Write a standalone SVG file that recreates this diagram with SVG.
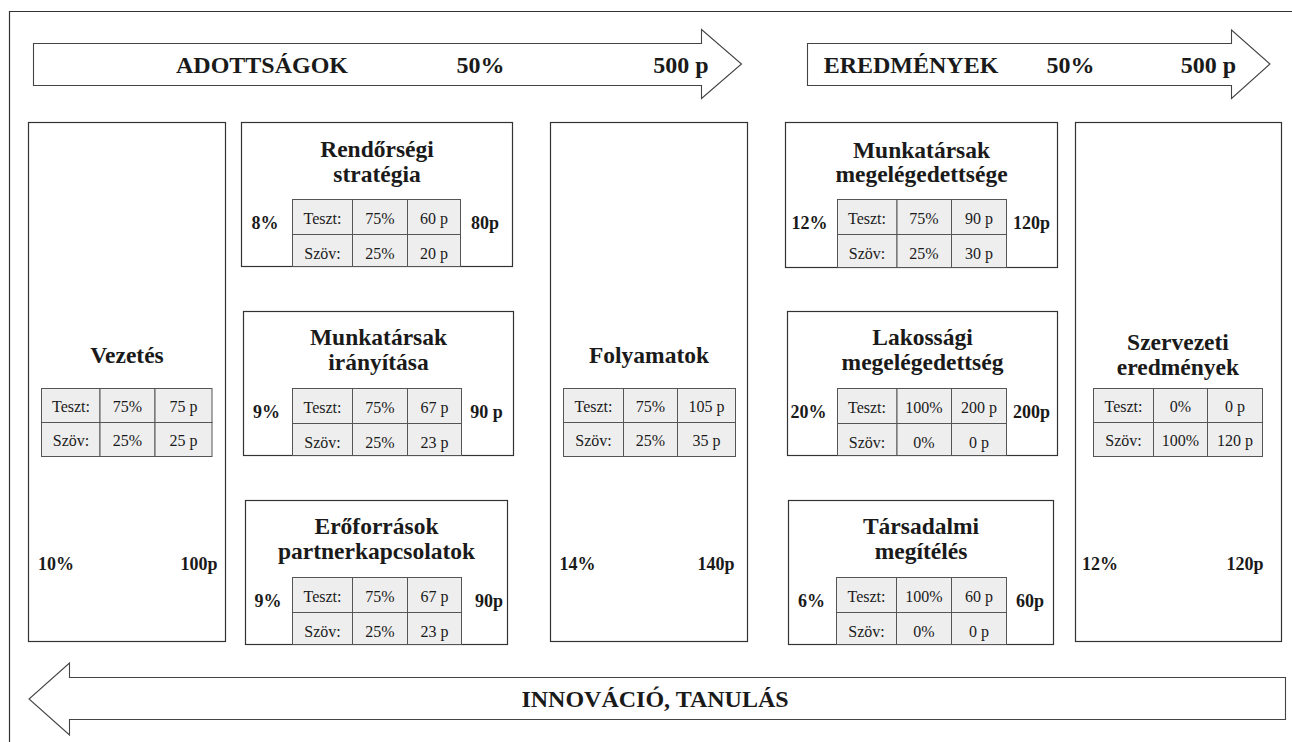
<svg xmlns="http://www.w3.org/2000/svg" width="1292" height="742" viewBox="0 0 1292 742">
<style>
.frame{fill:none;stroke:#333;stroke-width:1.2}
.box{fill:#fff;stroke:#333;stroke-width:1.2}
.arrow{fill:#fff;stroke:#444;stroke-width:1.1;stroke-linejoin:miter}
.cell{fill:#eeeeee;stroke:#555;stroke-width:1}
text{font-family:"Liberation Serif","Times New Roman",serif;fill:#1a1a1a}
.hdr{font-size:24px;font-weight:bold;text-anchor:middle}
.title{font-size:23.5px;font-weight:bold;text-anchor:middle}
.ct{font-size:16px;text-anchor:middle}
.pct{font-size:18px;font-weight:bold;text-anchor:middle}
</style>
<rect width="1292" height="742" fill="#fff"/>
<path class="frame" d="M9.5,742 V11.5 H1292"/>

<g id="arrows">
<path class="arrow" d="M33.5,43.5 H701.5 V29.5 L741.5,64 L701.5,98.5 V85.5 H33.5 Z"/>
<path class="arrow" d="M807.5,43.5 H1231.5 V30 L1270,64 L1231.5,98.5 V85.5 H807.5 Z"/>
<path class="arrow" d="M1285.5,677.5 H69.5 V663 L29,699 L69.5,735 V719.5 H1285.5 Z"/>
<text class="hdr" x="262" y="72.5">ADOTTSÁGOK</text>
<text class="hdr" x="480.5" y="72.5">50%</text>
<text class="hdr" x="681" y="72.5">500 p</text>
<text class="hdr" x="911" y="72.5">EREDMÉNYEK</text>
<text class="hdr" x="1070.5" y="72.5">50%</text>
<text class="hdr" x="1208.5" y="72.5">500 p</text>
<text class="hdr" x="655" y="707">INNOVÁCIÓ, TANULÁS</text>
</g>

<g id="vezetes">
<rect class="box" x="28.5" y="122.5" width="197" height="519"/>
<text class="title" x="127" y="363">Vezetés</text>
<rect class="cell" x="41.5" y="388.5" width="58.5" height="34"/>
<rect class="cell" x="100" y="388.5" width="55" height="34"/>
<rect class="cell" x="155" y="388.5" width="57" height="34"/>
<rect class="cell" x="41.5" y="422.5" width="58.5" height="34"/>
<rect class="cell" x="100" y="422.5" width="55" height="34"/>
<rect class="cell" x="155" y="422.5" width="57" height="34"/>
<text class="ct" x="71" y="412">Teszt:</text><text class="ct" x="127.5" y="412">75%</text><text class="ct" x="183.5" y="412">75 p</text>
<text class="ct" x="71" y="446">Szöv:</text><text class="ct" x="127.5" y="446">25%</text><text class="ct" x="183.5" y="446">25 p</text>
<text class="pct" x="56" y="570">10%</text>
<text class="pct" x="199" y="570">100p</text>
</g>

<g id="rendorsegi">
<rect class="box" x="241.5" y="122.5" width="271" height="144"/>
<text class="title" x="377" y="156.5">Rendőrségi</text>
<text class="title" x="377" y="181.5">stratégia</text>
<rect class="cell" x="292.5" y="199.5" width="60" height="35"/>
<rect class="cell" x="352.5" y="199.5" width="55" height="35"/>
<rect class="cell" x="407.5" y="199.5" width="53" height="35"/>
<rect class="cell" x="292.5" y="234.5" width="60" height="32"/>
<rect class="cell" x="352.5" y="234.5" width="55" height="32"/>
<rect class="cell" x="407.5" y="234.5" width="53" height="32"/>
<text class="ct" x="322.5" y="223.5">Teszt:</text><text class="ct" x="380" y="223.5">75%</text><text class="ct" x="434" y="223.5">60 p</text>
<text class="ct" x="322.5" y="258.5">Szöv:</text><text class="ct" x="380" y="258.5">25%</text><text class="ct" x="434" y="258.5">20 p</text>
<text class="pct" x="265" y="229">8%</text>
<text class="pct" x="485" y="229">80p</text>
</g>

<g id="munkatarsak-iranyitasa">
<rect class="box" x="243.5" y="311.5" width="270" height="144"/>
<text class="title" x="378.5" y="345">Munkatársak</text>
<text class="title" x="378.5" y="370">irányítása</text>
<rect class="cell" x="292.5" y="388.5" width="60" height="35"/>
<rect class="cell" x="352.5" y="388.5" width="55" height="35"/>
<rect class="cell" x="407.5" y="388.5" width="54" height="35"/>
<rect class="cell" x="292.5" y="423.5" width="60" height="32"/>
<rect class="cell" x="352.5" y="423.5" width="55" height="32"/>
<rect class="cell" x="407.5" y="423.5" width="54" height="32"/>
<text class="ct" x="322.5" y="412.5">Teszt:</text><text class="ct" x="380" y="412.5">75%</text><text class="ct" x="434.5" y="412.5">67 p</text>
<text class="ct" x="322.5" y="447.5">Szöv:</text><text class="ct" x="380" y="447.5">25%</text><text class="ct" x="434.5" y="447.5">23 p</text>
<text class="pct" x="266.5" y="418">9%</text>
<text class="pct" x="486.5" y="418">90 p</text>
</g>

<g id="eroforrasok">
<rect class="box" x="245.5" y="500.5" width="262" height="144"/>
<text class="title" x="376.5" y="534">Erőforrások</text>
<text class="title" x="376.5" y="559">partnerkapcsolatok</text>
<rect class="cell" x="292.5" y="577.5" width="60" height="35"/>
<rect class="cell" x="352.5" y="577.5" width="55" height="35"/>
<rect class="cell" x="407.5" y="577.5" width="54" height="35"/>
<rect class="cell" x="292.5" y="612.5" width="60" height="32"/>
<rect class="cell" x="352.5" y="612.5" width="55" height="32"/>
<rect class="cell" x="407.5" y="612.5" width="54" height="32"/>
<text class="ct" x="322.5" y="601.5">Teszt:</text><text class="ct" x="380" y="601.5">75%</text><text class="ct" x="434.5" y="601.5">67 p</text>
<text class="ct" x="322.5" y="636.5">Szöv:</text><text class="ct" x="380" y="636.5">25%</text><text class="ct" x="434.5" y="636.5">23 p</text>
<text class="pct" x="268" y="607">9%</text>
<text class="pct" x="489" y="607">90p</text>
</g>

<g id="folyamatok">
<rect class="box" x="550.5" y="122.5" width="197" height="519"/>
<text class="title" x="649" y="363">Folyamatok</text>
<rect class="cell" x="563.5" y="388.5" width="60" height="34"/>
<rect class="cell" x="623.5" y="388.5" width="54" height="34"/>
<rect class="cell" x="677.5" y="388.5" width="58" height="34"/>
<rect class="cell" x="563.5" y="422.5" width="60" height="34"/>
<rect class="cell" x="623.5" y="422.5" width="54" height="34"/>
<rect class="cell" x="677.5" y="422.5" width="58" height="34"/>
<text class="ct" x="593.5" y="412">Teszt:</text><text class="ct" x="650.5" y="412">75%</text><text class="ct" x="706.5" y="412">105 p</text>
<text class="ct" x="593.5" y="446">Szöv:</text><text class="ct" x="650.5" y="446">25%</text><text class="ct" x="706.5" y="446">35 p</text>
<text class="pct" x="577.5" y="570">14%</text>
<text class="pct" x="716" y="570">140p</text>
</g>

<g id="munkatarsak-megelegedettsege">
<rect class="box" x="785.5" y="122.5" width="272" height="145"/>
<text class="title" x="921.5" y="158">Munkatársak</text>
<text class="title" x="921.5" y="182">megelégedettsége</text>
<rect class="cell" x="837.5" y="199.5" width="59.5" height="35"/>
<rect class="cell" x="897" y="199.5" width="54.5" height="35"/>
<rect class="cell" x="951.5" y="199.5" width="55" height="35"/>
<rect class="cell" x="837.5" y="234.5" width="59.5" height="33"/>
<rect class="cell" x="897" y="234.5" width="54.5" height="33"/>
<rect class="cell" x="951.5" y="234.5" width="55" height="33"/>
<text class="ct" x="867" y="223.5">Teszt:</text><text class="ct" x="924" y="223.5">75%</text><text class="ct" x="979" y="223.5">90 p</text>
<text class="ct" x="867" y="258.5">Szöv:</text><text class="ct" x="924" y="258.5">25%</text><text class="ct" x="979" y="258.5">30 p</text>
<text class="pct" x="809.5" y="229">12%</text>
<text class="pct" x="1031.5" y="229">120p</text>
</g>

<g id="lakossagi">
<rect class="box" x="787.5" y="311.5" width="270" height="144"/>
<text class="title" x="922.5" y="345">Lakossági</text>
<text class="title" x="922.5" y="370">megelégedettség</text>
<rect class="cell" x="837.5" y="388.5" width="59.5" height="35"/>
<rect class="cell" x="897" y="388.5" width="54.5" height="35"/>
<rect class="cell" x="951.5" y="388.5" width="55" height="35"/>
<rect class="cell" x="837.5" y="423.5" width="59.5" height="32"/>
<rect class="cell" x="897" y="423.5" width="54.5" height="32"/>
<rect class="cell" x="951.5" y="423.5" width="55" height="32"/>
<text class="ct" x="867" y="412.5">Teszt:</text><text class="ct" x="924" y="412.5">100%</text><text class="ct" x="979" y="412.5">200 p</text>
<text class="ct" x="867" y="447.5">Szöv:</text><text class="ct" x="924" y="447.5">0%</text><text class="ct" x="979" y="447.5">0 p</text>
<text class="pct" x="808.5" y="418">20%</text>
<text class="pct" x="1031.5" y="418">200p</text>
</g>

<g id="tarsadalmi">
<rect class="box" x="788.5" y="500.5" width="265" height="144"/>
<text class="title" x="921" y="534">Társadalmi</text>
<text class="title" x="921" y="559">megítélés</text>
<rect class="cell" x="836.5" y="577.5" width="60" height="35"/>
<rect class="cell" x="896.5" y="577.5" width="55" height="35"/>
<rect class="cell" x="951.5" y="577.5" width="55" height="35"/>
<rect class="cell" x="836.5" y="612.5" width="60" height="32"/>
<rect class="cell" x="896.5" y="612.5" width="55" height="32"/>
<rect class="cell" x="951.5" y="612.5" width="55" height="32"/>
<text class="ct" x="866.5" y="601.5">Teszt:</text><text class="ct" x="924" y="601.5">100%</text><text class="ct" x="979" y="601.5">60 p</text>
<text class="ct" x="866.5" y="636.5">Szöv:</text><text class="ct" x="924" y="636.5">0%</text><text class="ct" x="979" y="636.5">0 p</text>
<text class="pct" x="811.5" y="607">6%</text>
<text class="pct" x="1030" y="607">60p</text>
</g>

<g id="szervezeti">
<rect class="box" x="1075.5" y="122.5" width="206" height="519"/>
<text class="title" x="1178" y="350">Szervezeti</text>
<text class="title" x="1178" y="375">eredmények</text>
<rect class="cell" x="1093.5" y="388.5" width="60" height="34"/>
<rect class="cell" x="1153.5" y="388.5" width="54" height="34"/>
<rect class="cell" x="1207.5" y="388.5" width="55" height="34"/>
<rect class="cell" x="1093.5" y="422.5" width="60" height="34"/>
<rect class="cell" x="1153.5" y="422.5" width="54" height="34"/>
<rect class="cell" x="1207.5" y="422.5" width="55" height="34"/>
<text class="ct" x="1123.5" y="412">Teszt:</text><text class="ct" x="1180.5" y="412">0%</text><text class="ct" x="1235" y="412">0 p</text>
<text class="ct" x="1123.5" y="446">Szöv:</text><text class="ct" x="1180.5" y="446">100%</text><text class="ct" x="1235" y="446">120 p</text>
<text class="pct" x="1100" y="570">12%</text>
<text class="pct" x="1245" y="570">120p</text>
</g>
</svg>
